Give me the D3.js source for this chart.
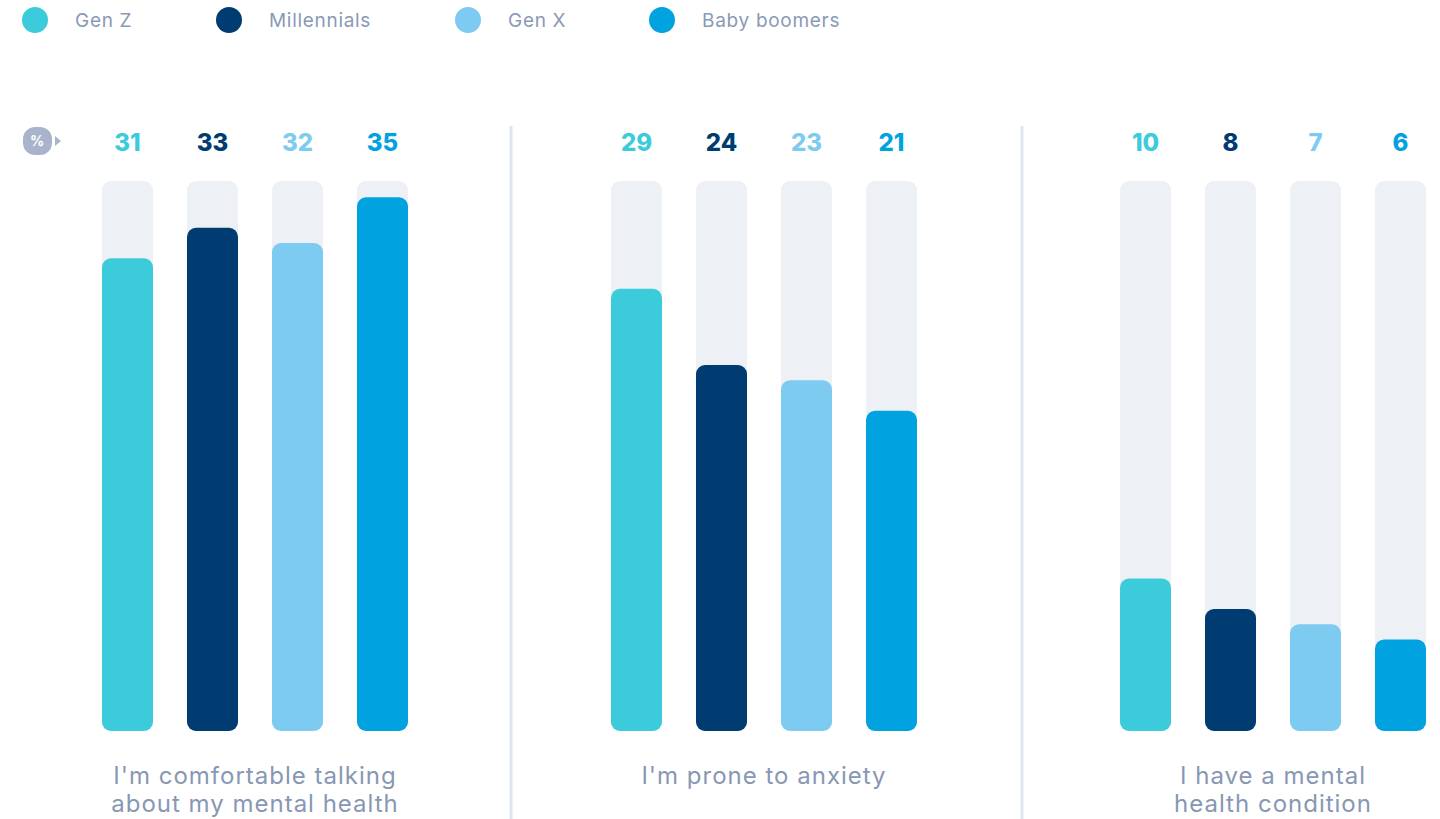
<!DOCTYPE html>
<html>
<head>
<meta charset="utf-8">
<script src="https://cdn.jsdelivr.net/npm/d3@7"></script>
<style>
  html, body { margin: 0; padding: 0; background: #fff; }
  svg { display: block; font-family: "Inter", "Lato", sans-serif; }
</style>
</head>
<body>
<svg id="chart" width="1440" height="819"></svg>
<script>
// data
var generations = ["Gen Z", "Millennials", "Gen X", "Baby boomers"];
var colors = ["#3ccbda", "#003b71", "#7dcbf0", "#00a3e0"];
var questions = [
  ["I'm comfortable talking", "about my mental health"],
  ["I'm prone to anxiety"],
  ["I have a mental", "health condition"]
];
var comfortable = [31, 33, 32, 35];
var anxiety = [29, 24, 23, 21];
var condition = [10, 8, 7, 6];
var seriesValues = [comfortable, anxiety, condition];

var width = 1440, height = 819;
var svg = d3.select("#chart");

var panelW = 511;
var trackTop = 181, trackBottom = 731;

var y = d3.scaleLinear().domain([0, 36.07]).range([trackBottom, trackTop]);

var x = d3.scaleBand()
    .domain(generations)
    .range([85, 425])
    .paddingInner(0.4)
    .paddingOuter(0.2);

// legend
var legendX = [35, 229, 468, 662];
var legend = svg.append("g").selectAll("g")
    .data(generations)
    .enter().append("g")
    .attr("transform", function (d, i) { return "translate(" + legendX[i] + ",20)"; });
legend.append("circle").attr("r", 13).attr("fill", function (d, i) { return colors[i]; });
legend.append("text")
    .attr("x", 40).attr("dy", "0.35em")
    .attr("font-size", 19).attr("letter-spacing", 0.7).attr("fill", "#8a99b6")
    .text(function (d) { return d; });

// dividers
[1, 2].forEach(function (i) {
  svg.append("line")
    .attr("x1", i * panelW).attr("x2", i * panelW)
    .attr("y1", 126).attr("y2", height)
    .attr("stroke", "#dfe6f2").attr("stroke-width", 3);
});

// % badge
var badge = svg.append("g").attr("transform", "translate(37,141)");
badge.append("path")
    .attr("d", "M18,-5 L24,0 L18,5 Z")
    .attr("fill", "#a9b4cc");
badge.append("rect")
    .attr("x", -14).attr("y", -14).attr("width", 29).attr("height", 28)
    .attr("rx", 12).attr("fill", "#a9b4cc");
badge.append("text")
    .attr("text-anchor", "middle").attr("dy", "0.36em")
    .attr("font-size", 14).attr("font-weight", 700).attr("fill", "#fff")
    .text("%");

// panels
seriesValues.forEach(function (vals, p) {
  var g = svg.append("g").attr("transform", "translate(" + (p * 509) + ",0)");

  g.selectAll("rect.track")
    .data(vals).enter().append("rect")
    .attr("class", "track")
    .attr("x", function (d, i) { return x(generations[i]); })
    .attr("y", trackTop)
    .attr("width", x.bandwidth())
    .attr("height", trackBottom - trackTop)
    .attr("rx", 9)
    .attr("fill", "#edf0f5");

  g.selectAll("rect.bar")
    .data(vals).enter().append("rect")
    .attr("class", "bar")
    .attr("x", function (d, i) { return x(generations[i]); })
    .attr("y", function (d) { return y(d); })
    .attr("width", x.bandwidth())
    .attr("height", function (d) { return trackBottom - y(d); })
    .attr("rx", 9)
    .attr("fill", function (d, i) { return colors[i]; });

  g.selectAll("text.val")
    .data(vals).enter().append("text")
    .attr("class", "val")
    .attr("x", function (d, i) { return x(generations[i]) + x.bandwidth() / 2; })
    .attr("y", 142)
    .attr("dy", "0.36em")
    .attr("text-anchor", "middle")
    .attr("font-size", 24).attr("font-weight", 800)
    .attr("fill", function (d, i) { return colors[i]; })
    .text(function (d) { return d; });

  var cx = (x.range()[0] + x.range()[1]) / 2;
  g.append("text")
    .attr("text-anchor", "middle")
    .attr("font-size", 24).attr("letter-spacing", 1).attr("fill", "#8797b4")
    .selectAll("tspan")
    .data(questions[p]).enter().append("tspan")
    .attr("x", cx)
    .attr("y", function (d, i) { return 784 + i * 28; })
    .text(function (d) { return d; });
});
</script>
</body>
</html>
